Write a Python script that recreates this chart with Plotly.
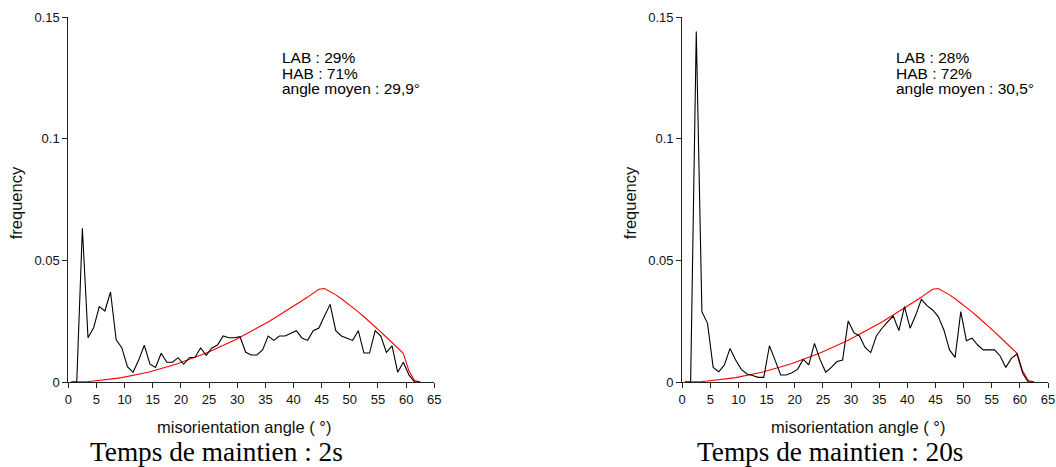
import plotly.graph_objects as go

# misorientation angle bin centres (degrees)
angles = [i + 0.5 for i in range(63)]

freq_2s = [0, 0, 0.0632, 0.0182, 0.0223, 0.0310, 0.0292, 0.0370, 0.0173, 0.0141,
           0.0063, 0.0040, 0.0090, 0.0151, 0.0073, 0.0060, 0.0118, 0.0081, 0.0081, 0.0100,
           0.0073, 0.0100, 0.0102, 0.0140, 0.0110, 0.0140, 0.0152, 0.0189, 0.0182, 0.0182,
           0.0186, 0.0122, 0.0111, 0.0111, 0.0132, 0.0189, 0.0171, 0.0189, 0.0189, 0.0200,
           0.0211, 0.0181, 0.0171, 0.0211, 0.0222, 0.0271, 0.0319, 0.0211, 0.0189, 0.0180,
           0.0171, 0.0211, 0.0119, 0.0119, 0.0211, 0.0189, 0.0122, 0.0148, 0.0040, 0.0081,
           0.0029, 0, 0]

freq_20s = [0, 0, 0.1440, 0.0289, 0.0241, 0.0060, 0.0042, 0.0070, 0.0138, 0.0090,
            0.0052, 0.0033, 0.0027, 0.0019, 0.0019, 0.0149, 0.0090, 0.0029, 0.0029, 0.0038,
            0.0052, 0.0093, 0.0070, 0.0159, 0.0092, 0.0040, 0.0060, 0.0084, 0.0090, 0.0251,
            0.0203, 0.0189, 0.0142, 0.0121, 0.0189, 0.0221, 0.0247, 0.0271, 0.0211, 0.0310,
            0.0221, 0.0275, 0.0340, 0.0314, 0.0296, 0.0269, 0.0214, 0.0132, 0.0101, 0.0289,
            0.0170, 0.0180, 0.0152, 0.0132, 0.0132, 0.0132, 0.0107, 0.0060, 0.0097, 0.0115,
            0.0036, 0, 0]

# random (Mackenzie) reference distribution
freq_random = [0.0000, 0.0000, 0.0001, 0.0002, 0.0004, 0.0006, 0.0009, 0.0011, 0.0015, 0.0018,
               0.0022, 0.0027, 0.0032, 0.0037, 0.0042, 0.0048, 0.0055, 0.0062, 0.0069, 0.0076,
               0.0084, 0.0092, 0.0101, 0.0110, 0.0119, 0.0129, 0.0139, 0.0150, 0.0161, 0.0172,
               0.0184, 0.0196, 0.0208, 0.0221, 0.0234, 0.0247, 0.0261, 0.0275, 0.0289, 0.0304,
               0.0318, 0.0334, 0.0349, 0.0365, 0.0381, 0.0384, 0.0372, 0.0358, 0.0342, 0.0325,
               0.0307, 0.0288, 0.0268, 0.0248, 0.0227, 0.0206, 0.0184, 0.0162, 0.0140, 0.0118,
               0.0045, 0.0006, 0.0000]

x_ticks = list(range(0, 70, 5))
y_ticks = [0, 0.05, 0.1, 0.15]
y_tick_text = ["0", "0.05", "0.1", "0.15"]

stats_2s = ["LAB : 29%", "HAB : 71%", "angle moyen : 29,9°"]
stats_20s = ["LAB : 28%", "HAB : 72%", "angle moyen : 30,5°"]
titles = ["Temps de maintien : 2s", "Temps de maintien : 20s"]
x_title = "misorientation angle ( °)"
y_title = "frequency"

W, H = 1056, 467
top, bottom = 17, 85
plot_h = H - top - bottom

def px2paper_x(px):
    return px / W

def px2paper_y(py):
    return (H - bottom - py) / plot_h

fig = go.Figure()

panels = [
    ("x", "y", freq_2s, stats_2s, 68.3, 434.3),
    ("x2", "y2", freq_20s, stats_20s, 682.2, 1048.0),
]

for xa, ya, data, stats, x0, x1 in panels:
    fig.add_trace(go.Scatter(x=angles, y=freq_random, mode="lines", xaxis=xa, yaxis=ya,
                             line=dict(color="#ff0000", width=1.1), showlegend=False, hoverinfo="skip"))
    fig.add_trace(go.Scatter(x=angles, y=data, mode="lines", xaxis=xa, yaxis=ya,
                             line=dict(color="#000000", width=1.1), showlegend=False))

axis_font = dict(family="Liberation Sans, Arial, sans-serif", size=13, color="#111111")
common_x = dict(range=[0, 65], tickvals=x_ticks, showgrid=False, zeroline=False,
                showline=True, linecolor="#222222", linewidth=1, ticks="outside",
                ticklen=5, tickcolor="#222222", tickfont=axis_font, fixedrange=True)
common_y = dict(range=[0, 0.15], tickvals=y_ticks, ticktext=y_tick_text, showgrid=False,
                zeroline=False, showline=True, linecolor="#222222", linewidth=1,
                ticks="outside", ticklen=5, tickcolor="#222222", tickfont=axis_font,
                fixedrange=True)

fig.update_layout(
    width=W, height=H,
    margin=dict(l=0, r=0, t=top, b=bottom, autoexpand=False),
    paper_bgcolor="white", plot_bgcolor="white",
    xaxis=dict(domain=[px2paper_x(68.3), px2paper_x(434.3)], anchor="y", **common_x),
    yaxis=dict(domain=[0, 1], anchor="x", **common_y),
    xaxis2=dict(domain=[px2paper_x(682.2), px2paper_x(1048.0)], anchor="y2", **common_x),
    yaxis2=dict(domain=[0, 1], anchor="x2", **common_y),
)

ann = []
label_font = dict(family="Liberation Sans, Arial, sans-serif", size=16.5, color="#111111")
title_font = dict(family="Liberation Serif, Times New Roman, serif", size=27.3, color="#000000")
stat_font = dict(family="Liberation Sans, Arial, sans-serif", size=15.5, color="#000000")
stat_y_px = [58.0, 73.5, 89.0]

for i, (xa, ya, data, stats, x0, x1) in enumerate(panels):
    for line, ypx in zip(stats, stat_y_px):
        ann.append(dict(x=px2paper_x(x0 + 211.5), y=px2paper_y(ypx), xref="paper", yref="paper",
                        text=line, showarrow=False, xanchor="left", yanchor="middle",
                        font=stat_font))
    ann.append(dict(x=px2paper_x(x0 + 175.5), y=px2paper_y(427), xref="paper", yref="paper",
                    text=x_title, showarrow=False, xanchor="center", yanchor="middle",
                    font=label_font))
    ann.append(dict(x=px2paper_x(x0 - 52), y=px2paper_y(203), xref="paper", yref="paper",
                    text=y_title, showarrow=False, textangle=-90, xanchor="center",
                    yanchor="middle", font=label_font))
    ann.append(dict(x=px2paper_x(x0 + 148), y=px2paper_y(451.5), xref="paper", yref="paper",
                    text=titles[i], showarrow=False, xanchor="center", yanchor="middle",
                    font=title_font))

fig.update_layout(annotations=ann)
fig.write_html("out.html", config={"displayModeBar": False},
               post_script="document.body.style.margin='0';document.body.style.overflow='hidden';")
